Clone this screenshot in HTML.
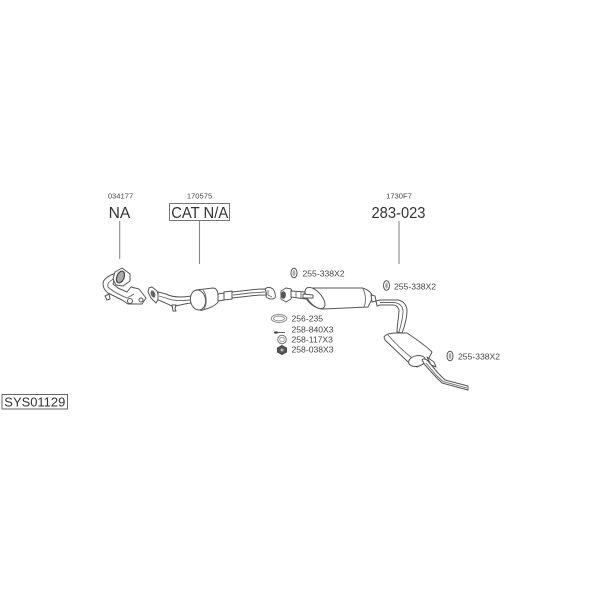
<!DOCTYPE html>
<html><head><meta charset="utf-8"><style>
html,body{margin:0;padding:0;background:#fff}
svg{display:block}
text{font-family:"Liberation Sans",sans-serif;fill:#444}
.s{font-size:8.6px}
.t{font-size:7.6px}
.b{font-size:15.6px;fill:#333}
.p{fill:#fff;stroke:#555;stroke-width:1;stroke-linejoin:round}
.d{fill:none;stroke:#666;stroke-width:.9}
.l{stroke:#888;stroke-width:1.1}
.g{filter:blur(.3px)}
</style></head><body>
<svg width="600" height="600" viewBox="0 0 600 600" xmlns="http://www.w3.org/2000/svg">
<rect width="600" height="600" fill="#fff"/>
<g class="g">
<text class="t" x="120.5" y="198.500" text-anchor="middle">034177</text>
<text class="t" x="199.500" y="198.500" text-anchor="middle">170575</text>
<text class="t" x="399" y="198.500" text-anchor="middle">1730F7</text>
<text class="b" x="119.500" y="218" text-anchor="middle">NA</text>
<rect x="169.500" y="203.500" width="60" height="17" fill="#fff" stroke="#777" stroke-width="1"/>
<text class="b" x="199.700" y="218" text-anchor="middle" textLength="57" lengthAdjust="spacingAndGlyphs">CAT N/A</text>
<text class="b" x="398.500" y="218" text-anchor="middle" textLength="54" lengthAdjust="spacingAndGlyphs">283-023</text>
<line class="l" x1="119.700" y1="221" x2="119.700" y2="259"/>
<line class="l" x1="199.500" y1="221" x2="199.500" y2="264"/>
<line class="l" x1="399" y1="221" x2="399" y2="264"/>

<rect x="2" y="394.500" width="65.500" height="14.500" fill="#fff" stroke="#666" stroke-width="1"/>
<text x="34.800" y="406.300" text-anchor="middle" font-size="12.600" style="fill:#333" textLength="61" lengthAdjust="spacingAndGlyphs">SYS01129</text>

<!-- manifold -->
<path class="p" d="M116 273 C110 275 104 278 103 283 C103 288 105 291 108 293 L122 300 L128 304 L142 304 L146 298 L139 289 L131 287 L127 292 L118 288 L113 284Z" stroke-width="1.200"/>
<path class="d" d="M114 279 C109 281 107 284 108 287 C112 291 120 295 127 298 L134 294"/>
<path class="p" d="M115 272 L122 268 L130 274 L130 281 L123 286 L116 285 L113 279 Z"/>
<ellipse cx="120.500" cy="277" rx="3.600" ry="6.200" transform="rotate(22 120.500 277)" fill="#aaa" stroke="#444" stroke-width="1.200"/>
<path class="p" d="M105 296 L109 294 L110 299 L107 300Z"/>
<circle cx="130" cy="301" r="2.500" class="p"/>
<circle cx="141" cy="300" r="2" class="p"/>

<!-- cat pipe -->
<path class="p" d="M149 288 L152 287 L157 291 L159 298 L156 303 L151 298 L148 292Z" stroke-width="1.100"/>
<ellipse cx="153" cy="294" rx="2.200" ry="3.800" transform="rotate(-20 153 294)" fill="#666"/>
<path class="p" d="M158 292 L166 294 C172 297 180 298 191 296 L191 303 C183 304 178 306 172 306 C167 304 162 301 158 300Z"/>
<path class="d" d="M159 296 L166 298 C173 301 180 301 190 300"/>
<path class="p" d="M172 305 L176 305 L175 309 L176 311 L173 311Z"/>
<path class="p" d="M196 290 L213 288 C216 288 218 291 218 295 L218 302 C215 306 210 308 201 310.500Z"/>
<ellipse cx="198" cy="300" rx="7.500" ry="10" transform="rotate(-10 198 300)" class="p" stroke-width="1.200"/>
<path class="d" d="M203 290 C207 295 207 304 204 309"/>
<path class="p" d="M218 294 L224 293 L224 300 L218 301Z"/>
<path class="p" d="M224 292 L232 291 L232 299 L224 300Z"/>
<path class="p" d="M232 292 L250 290 C256 289 260 289 266 289 L266 295 C260 295 256 295 250 296 L232 298Z"/>
<path class="d" d="M233 295 L250 293 L265 292"/>
<path class="p" d="M265 289 C267 287 270 287 273 289 C275 292 276 295 275 298 C272 300 269 299 266 297 C267 294 266 291 265 289Z" stroke-width="1.200"/>
<path class="d" d="M268 290 L268 295 L272 297"/>

<!-- flange -->
<path class="p" d="M281 291 L286 288 L291 289 L293 293 L291 299 L286 302 L281 299Z" stroke-width="1.100"/>
<ellipse cx="283.500" cy="295" rx="2.400" ry="3.800" fill="#555"/>
<path class="p" d="M291 291 L306 292 L312 294 L312 299 L306 299 L291 297Z"/>
<path class="d" d="M296 291 L296 298 M301 292 L301 299"/>

<!-- centre muffler -->
<path class="p" d="M310 288 L362 288 C367 289 371 292 373 297 L368 307 L323 309 C315 309 307 302 305 296 C304 292 306 288 310 288Z" stroke-width="1.100"/>
<ellipse cx="315" cy="298" rx="6.500" ry="13" transform="rotate(-42 315 298)" class="p" stroke-width="1.200"/>
<path class="p" d="M303 294 L313 295 L313 298 L303 298Z"/>
<path class="d" d="M363 289 C366 294 366 302 364 307"/>
<path class="p" d="M371 295 L375 296 L376 301 L372 302Z"/>

<!-- rear pipe -->
<path class="p" d="M376 301 L380 300 L398 300 C404 301 407 306 407 311 C407 318 405 325 402 333 L397 332 C397 325 399 316 399 310 C398 307 396 305 393 305 L380 305 L377 306Z"/>
<path class="d" d="M380 302.500 L394 302.500 C400 303 403 307 403 311 C403 318 401 325 399 332"/>

<!-- rear muffler -->
<path class="p" d="M384 337 C386 334 390 333 396 333 L407 333 C416 339 426 346 432 352 L427 362 L417 367 L408 362 L385 340Z" stroke-width="1.200"/>
<path class="d" d="M388 335 C394 342 402 350 412 358"/>
<ellipse cx="417" cy="361" rx="8.500" ry="5.300" transform="rotate(-12 417 361)" class="p" stroke-width="1.400"/>
<path class="p" d="M427 357 L434 362 L436 367 L431 365Z"/>
<path class="p" d="M422 360 C423 358 426 359 428 361 L438 373 L445 380 L468 386 L468 390 L442 383 L434 375 L425 365Z"/>
<path class="d" d="M426 363 L436 375 L443 381.500 L467 388"/>

<!-- small parts -->
<ellipse cx="294" cy="273" rx="3" ry="4.800" class="p" stroke-width="1.100"/>
<ellipse cx="294" cy="273" rx="1.400" ry="3" fill="#aaa"/>
<text class="s" x="302.500" y="276.500">255-338X2</text>
<ellipse cx="386.500" cy="285.500" rx="3" ry="4.800" class="p" stroke-width="1.100"/>
<ellipse cx="386.500" cy="285.500" rx="1.400" ry="3" fill="#aaa"/>
<text class="s" x="394" y="289.500">255-338X2</text>
<ellipse cx="450" cy="356" rx="3" ry="4.800" class="p" stroke-width="1.100"/>
<ellipse cx="450" cy="356" rx="1.400" ry="3" fill="#aaa"/>
<text class="s" x="458" y="359.500">255-338X2</text>

<ellipse cx="279" cy="318.500" rx="7.800" ry="4" fill="#fff" stroke="#888"/>
<ellipse cx="279" cy="318.500" rx="5.500" ry="2.300" fill="none" stroke="#888" stroke-width=".8"/>
<text class="s" x="291.500" y="321.500">256-235</text>
<path d="M274 332.500 H285" stroke="#666" stroke-width="1"/>
<path d="M274.500 332.500 h3" stroke="#333" stroke-width="2"/>
<text class="s" x="291.500" y="332.500">258-840X3</text>
<circle cx="282" cy="339.500" r="4.300" fill="#fff" stroke="#777" stroke-width="1"/>
<circle cx="282" cy="339.500" r="2.300" fill="#fff" stroke="#999" stroke-width=".9"/>
<text class="s" x="291.500" y="342.500">258-117X3</text>
<path d="M282 345.500 L286.500 348 L286.500 352 L282 354.500 L277.500 352 L277.500 348Z" fill="#555" stroke="#444"/>
<circle cx="282" cy="350" r="1.500" fill="#bbb"/>
<text class="s" x="291.500" y="352.500">258-038X3</text>
</g>
</svg>
</body></html>
